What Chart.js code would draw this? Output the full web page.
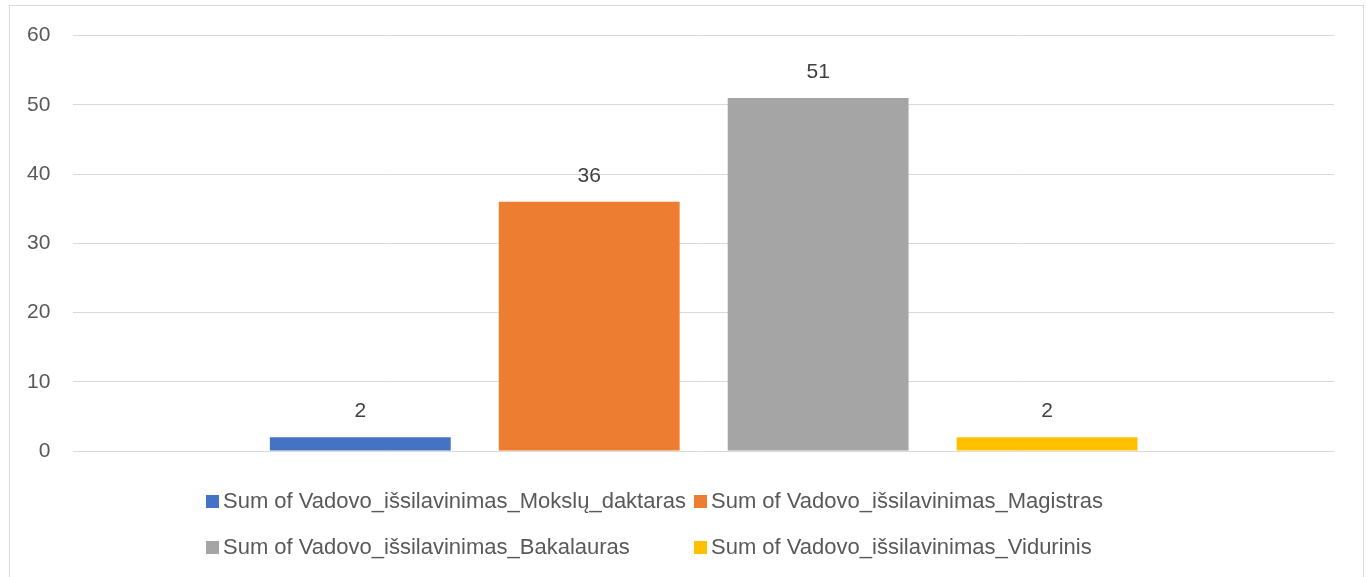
<!DOCTYPE html>
<html>
<head>
<meta charset="utf-8">
<script src="https://cdn.jsdelivr.net/npm/chart.js@4"></script>
<style>
    html, body { margin: 0; padding: 0; background: #fff; overflow: hidden; }
    #frame { position: absolute; left: 9px; top: 5px; width: 1353px; height: 600px; border: 1px solid #d9d9d9; }
    #wrap { position: absolute; left: 0; top: 0; width: 1366px; height: 577px; }
    #legend { position: absolute; left: 0; top: 0; width: 1366px; height: 577px; pointer-events: none;
        font-family: "Liberation Sans", Arial, sans-serif; font-size: 22px; color: #595959; }
    .item { position: absolute; display: flex; align-items: center; white-space: nowrap; }
    .box { width: 13px; height: 13px; margin-right: 4px; }
</style>
</head>
<body>
<div id="frame"></div>
<div id="wrap"><canvas id="chart"></canvas></div>
<div id="legend"></div>
<script>
const categories = [""];
const seriesNames = [
    "Sum of Vadovo_išsilavinimas_Mokslų_daktaras",
    "Sum of Vadovo_išsilavinimas_Magistras",
    "Sum of Vadovo_išsilavinimas_Bakalauras",
    "Sum of Vadovo_išsilavinimas_Vidurinis"
];
const daktaras = [2];
const magistras = [36];
const bakalauras = [51];
const vidurinis = [2];
const yTicks = [0, 10, 20, 30, 40, 50, 60];
const colors = ["#4472C4", "#ED7D31", "#A5A5A5", "#FFC000"];

const seriesValues = [daktaras, magistras, bakalauras, vidurinis];
const fontFamily = "\"Liberation Sans\", Arial, sans-serif";

// value labels above each bar
const barLabels = {
    id: "barLabels",
    afterDatasetsDraw(chart) {
        const ctx = chart.ctx;
        ctx.save();
        ctx.font = `21px ${fontFamily}`;
        ctx.fillStyle = "#404040";
        ctx.textAlign = "center";
        ctx.textBaseline = "middle";
        chart.data.datasets.forEach((ds, i) => {
            chart.getDatasetMeta(i).data.forEach((bar, j) => {
                ctx.fillText(String(ds.data[j]), bar.x, bar.y - 26);
            });
        });
        ctx.restore();
    }
};

const chart = new Chart(document.getElementById("chart"), {
    type: "bar",
    data: {
        labels: categories,
        datasets: seriesValues.map((values, i) => ({
            label: seriesNames[i],
            data: values,
            backgroundColor: colors[i],
            categoryPercentage: 0.7264,
            barPercentage: 0.79
        }))
    },
    options: {
        responsive: true,
        maintainAspectRatio: false,
        animation: false,
        layout: { padding: { top: 33, left: 4, right: 32, bottom: 118 } },
        plugins: {
            legend: { display: false },
            tooltip: { enabled: false }
        },
        scales: {
            x: {
                ticks: { display: false },
                grid: { display: false },
                border: { display: false }
            },
            y: {
                min: yTicks[0],
                max: yTicks[yTicks.length - 1],
                afterBuildTicks: (scale) => {
                    scale.ticks = yTicks.map(v => ({ value: v }));
                },
                ticks: {
                    padding: 23,
                    color: "#595959",
                    font: { family: fontFamily, size: 21 }
                },
                grid: { color: "#d9d9d9", lineWidth: 1, drawTicks: false },
                border: { display: false }
            }
        }
    },
    plugins: [barLabels]
});

// legend laid out in two aligned columns, as in the original
const legendEl = document.getElementById("legend");
const legendPos = [[206, 501], [694, 501], [206, 547], [694, 547]];
chart.data.datasets.forEach((ds, i) => {
    const item = document.createElement("div");
    item.className = "item";
    item.style.left = legendPos[i][0] + "px";
    item.style.top = (legendPos[i][1] - 13) + "px";
    item.style.height = "26px";
    const box = document.createElement("span");
    box.className = "box";
    box.style.background = ds.backgroundColor;
    const text = document.createElement("span");
    text.textContent = ds.label;
    item.appendChild(box);
    item.appendChild(text);
    legendEl.appendChild(item);
});
</script>
</body>
</html>
